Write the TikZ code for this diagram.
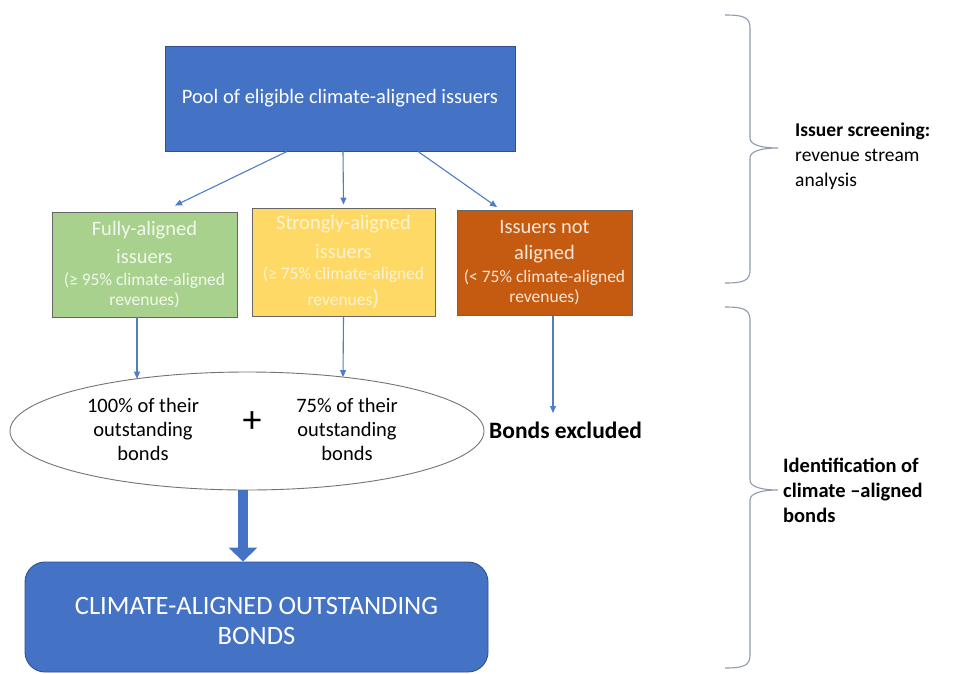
\documentclass[tikz,border=0pt]{standalone}
\usepackage{fontspec}
\setmainfont{Carlito}
\usetikzlibrary{arrows.meta,shapes.geometric,calc}
\definecolor{blu}{HTML}{4472C4}
\definecolor{bluedge}{HTML}{2F528F}
\definecolor{grn}{HTML}{A9D18E}
\definecolor{yel}{HTML}{FFD966}
\definecolor{org}{HTML}{C55A11}
\definecolor{arrc}{HTML}{4F7DC6}
\definecolor{brc}{HTML}{8E9BB0}
\definecolor{yeltxt}{HTML}{FFF3CF}
\definecolor{orgtxt}{HTML}{FBE7D8}
\definecolor{grntxt}{HTML}{F2F8EE}
\newcommand{\smf}{\fontsize{17.5}{20}\selectfont}
\begin{document}
\begin{tikzpicture}[x=1pt,y=-1pt,
  catbox/.style={draw=black!60,line width=0.9pt,minimum width=#1,minimum height=105pt,inner sep=0pt,align=center,font=\fontsize{20.5}{25}\selectfont},
  thin/.style={draw=arrc,line width=1.1pt,-{Triangle[length=7pt,width=6pt]}},
  brace/.style={draw=brc,line width=1.1pt}]
\useasboundingbox (0,0) rectangle (963,673);
\fill[white] (0,0) rectangle (963,673);
% top box
\node[draw=bluedge,line width=0.9pt,fill=blu,text=white,minimum width=350pt,minimum height=105pt,font=\fontsize{20.5}{25}\selectfont] (pool) at (340,98.5) {Pool of eligible climate-aligned issuers};
% category boxes
\node[catbox=185pt,fill=grn,text=grntxt] (full) at (144.5,264.5)
  {Fully-aligned\\[3pt]issuers\\[-3pt]{\smf (≥ 95\% climate-aligned}\\[-5pt]{\smf revenues)}};
\node[catbox=183pt,minimum height=108pt,fill=yel,text=yeltxt] (strong) at (343.5,262)
  {Strongly-aligned\\[4pt]issuers\\[-4pt]{\smf (≥ 75\% climate-aligned}\\[1pt]{\smf revenues}{\fontsize{23}{25}\selectfont)}};
\node[catbox=175pt,fill=org,text=orgtxt] (notal) at (544.5,263)
  {Issuers not\\[1pt]aligned\\[-2pt]{\smf (< 75\% climate-aligned}\\[-5pt]{\smf revenues)}};
% arrows from pool
\draw[thin] ([xshift=-53pt]pool.south) -- ([xshift=30.5pt,yshift=6pt]full.north);
\draw[thin] ([xshift=3pt]pool.south) -- ([yshift=3pt]strong.north);
\draw[thin] ([xshift=78pt]pool.south) -- ([xshift=-47.5pt,yshift=3pt]notal.north);
% ellipse
\node[ellipse,draw=black!55,line width=0.9pt,fill=white,minimum width=474pt,minimum height=118pt,inner sep=0pt,outer sep=0pt] (ell) at (247,431) {};
\coordinate (e1) at (137,{431-59*sqrt(1-(110/237)^2)});
\coordinate (e2) at (343,{431-59*sqrt(1-(96/237)^2)});
\draw[thin] ([xshift=-7.5pt]full.south) -- (e1);
\draw[thin] (strong.south) -- (e2);
\node[align=center,font=\fontsize{20.5}{24}\selectfont,inner sep=0pt] (t100) at (143,429) {100\% of their\\outstanding\\bonds};
\node[font=\fontsize{38}{38}\selectfont,inner sep=0pt] (plus) at (252,422) {+};
\node[align=center,font=\fontsize{20.5}{24}\selectfont,inner sep=0pt] (t75) at (347,429) {75\% of their\\outstanding\\bonds};
% excluded
\node[anchor=west,font=\bfseries\fontsize{23.5}{26}\selectfont,inner sep=0pt] (excl) at (489,430) {Bonds excluded};
\coordinate (exclend) at (553,413);
\draw[thin] ([xshift=8.5pt]notal.south) -- (exclend);
% bottom box
\node[draw=bluedge,line width=0.9pt,fill=blu,rounded corners=20pt,minimum width=463pt,minimum height=110pt] (final) at (256.5,617) {};
\node[text=white,align=center,inner sep=0pt,font=\fontsize{26.5}{30}\selectfont] (finaltxt) at (256.5,621) {CLIMATE-ALIGNED OUTSTANDING\\BONDS};
\coordinate (thickstart) at (243,490);
\draw[blu,line width=10pt,-{Triangle[length=14pt,width=28pt]}] (thickstart) -- (thickstart |- final.north);
% braces
\draw[brace] (725,15) .. controls (743,15) and (750,17) .. (750,28) -- (750,138)
  .. controls (750,145) and (762,148) .. (778,148)
  .. controls (762,148) and (750,151) .. (750,158) -- (750,270)
  .. controls (750,281) and (743,283) .. (725,283);
\draw[brace] (725,307) .. controls (743,307) and (750,309) .. (750,320) -- (750,480)
  .. controls (750,487) and (762,490) .. (778,490)
  .. controls (762,490) and (750,493) .. (750,500) -- (750,655)
  .. controls (750,666) and (743,668) .. (725,668);
\node[anchor=west,align=left,inner sep=0pt,font=\fontsize{19.5}{25}\selectfont] (screen) at (795,156) {\textbf{Issuer screening:}\\revenue stream\\analysis};
\node[anchor=west,align=left,inner sep=0pt,font=\bfseries\fontsize{20.5}{25}\selectfont] (ident) at (783,490) {Identification of\\climate –aligned\\bonds};
\end{tikzpicture}
\end{document}
